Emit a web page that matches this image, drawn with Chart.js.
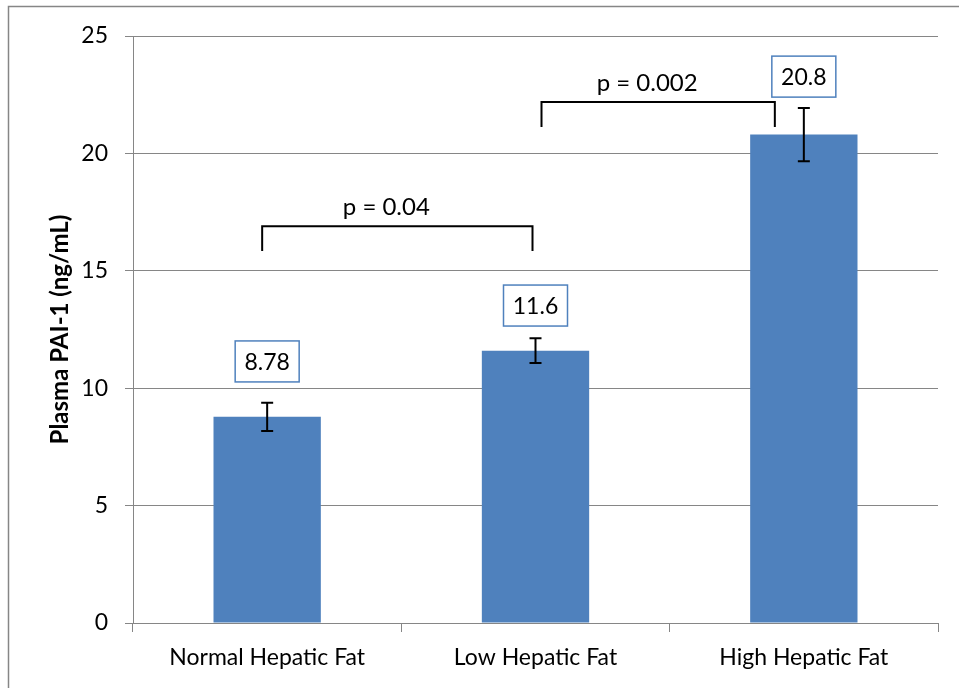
<!DOCTYPE html>
<html>
<head>
<meta charset="UTF-8">
<title>Plasma PAI-1 by hepatic fat</title>
<script src="https://cdn.jsdelivr.net/npm/chart.js@4.4.1/dist/chart.umd.min.js"></script>
<style>
  body { margin: 0; background: #fff; }
  #wrap { width: 959px; height: 688px; }
</style>
</head>
<body>
<div id="wrap"><canvas id="chart" width="959" height="688"></canvas></div>
<script>
// data
var categories = ['Normal Hepatic Fat', 'Low Hepatic Fat', 'High Hepatic Fat'];
var pai1Mean = [8.78, 11.6, 20.8];
var pai1Err = [0.6, 0.53, 1.13];
var valueLabels = ['8.78', '11.6', '20.8'];
var labelLevel = [11.14, 13.52, 23.27];   // centre of the value boxes, in ng/mL
var yTicks = [0, 5, 10, 15, 20, 25];

// significance brackets
var pairFrom = [0, 1];
var pairTo = [1, 2];
var pairText = ['p = 0.04', 'p = 0.002'];
var pairTop = [16.9, 22.19];
var pairFoot = [15.84, 21.12];

var FONT = 'Lato, "Noto Sans", sans-serif';
var GRID = '#868686';
var BLUE = '#4F81BD';

var extras = {
  id: 'extras',
  beforeDraw: function(chart) {
    var c = chart.ctx;
    c.save();
    c.fillStyle = '#fff';
    c.fillRect(0, 0, chart.width, chart.height);
    c.strokeStyle = GRID;
    c.lineWidth = 1.5;
    c.strokeRect(8.5, 6.5, chart.width + 20, chart.height + 20);
    c.restore();
  },
  afterDatasetsDraw: function(chart) {
    var c = chart.ctx;
    var x = chart.scales.x, y = chart.scales.y;
    c.save();

    // error bars
    c.strokeStyle = '#000';
    c.lineWidth = 2;
    pai1Mean.forEach(function(v, i) {
      var px = x.getPixelForValue(i);
      var top = y.getPixelForValue(v + pai1Err[i]);
      var bot = y.getPixelForValue(v - pai1Err[i]);
      c.beginPath();
      c.moveTo(px, top); c.lineTo(px, bot);
      c.moveTo(px - 6, top); c.lineTo(px + 6, top);
      c.moveTo(px - 6, bot); c.lineTo(px + 6, bot);
      c.stroke();
    });

    // value boxes
    c.font = '23px ' + FONT;
    c.textAlign = 'center';
    c.textBaseline = 'middle';
    valueLabels.forEach(function(t, i) {
      var px = x.getPixelForValue(i);
      var py = y.getPixelForValue(labelLevel[i]);
      c.fillStyle = '#fff';
      c.fillRect(px - 32, py - 20.5, 64, 41);
      c.strokeStyle = BLUE;
      c.lineWidth = 1.5;
      c.strokeRect(px - 32, py - 20.5, 64, 41);
      c.fillStyle = '#000';
      c.fillText(t, px, py + 1);
    });

    // brackets
    var inset = [[-5, -3], [6, -29]];
    c.strokeStyle = '#000';
    c.lineWidth = 2;
    c.font = '24px ' + FONT;
    c.textBaseline = 'alphabetic';
    pairText.forEach(function(t, k) {
      var x1 = x.getPixelForValue(pairFrom[k]) + inset[k][0];
      var x2 = x.getPixelForValue(pairTo[k]) + inset[k][1];
      var yt = y.getPixelForValue(pairTop[k]);
      var yf = y.getPixelForValue(pairFoot[k]);
      c.beginPath();
      c.moveTo(x1, yf); c.lineTo(x1, yt); c.lineTo(x2, yt); c.lineTo(x2, yf);
      c.stroke();
      c.fillStyle = '#000';
      c.fillText(t, (x1 + x2) / 2 - 11, yt - 11);
    });
    c.restore();
  }
};

new Chart(document.getElementById('chart'), {
  type: 'bar',
  data: {
    labels: categories,
    datasets: [{
      data: pai1Mean,
      backgroundColor: BLUE,
      borderWidth: 0,
      barPercentage: 0.4,
      categoryPercentage: 1
    }]
  },
  options: {
    responsive: false,
    animation: false,
    events: [],
    layout: { padding: { top: 36, right: 21, left: 0, bottom: 0 } },
    plugins: { legend: { display: false }, tooltip: { enabled: false } },
    scales: {
      x: {
        offset: true,
        grid: { offset: true, drawOnChartArea: false, drawTicks: true, tickLength: 9, color: GRID, lineWidth: 1 },
        border: { color: GRID, width: 1 },
        ticks: { color: '#000', font: { family: FONT, size: 23 }, padding: 12, maxRotation: 0 },
        afterFit: function(s) { s.height = 65; }
      },
      y: {
        min: 0,
        max: 25,
        afterBuildTicks: function(s) { s.ticks = yTicks.map(function(v) { return { value: v }; }); },
        grid: { color: GRID, lineWidth: 1, tickLength: 8 },
        border: { color: GRID, width: 1 },
        ticks: { color: '#000', font: { family: FONT, size: 23 }, padding: 17 },
        title: {
          display: true,
          text: 'Plasma PAI-1 (ng/mL)',
          color: '#000',
          font: { family: FONT, size: 24, weight: 'bold' },
          padding: { top: 46, bottom: 0 }
        },
        afterFit: function(s) { s.width = 133; }
      }
    }
  },
  plugins: [extras]
});
</script>
</body>
</html>
